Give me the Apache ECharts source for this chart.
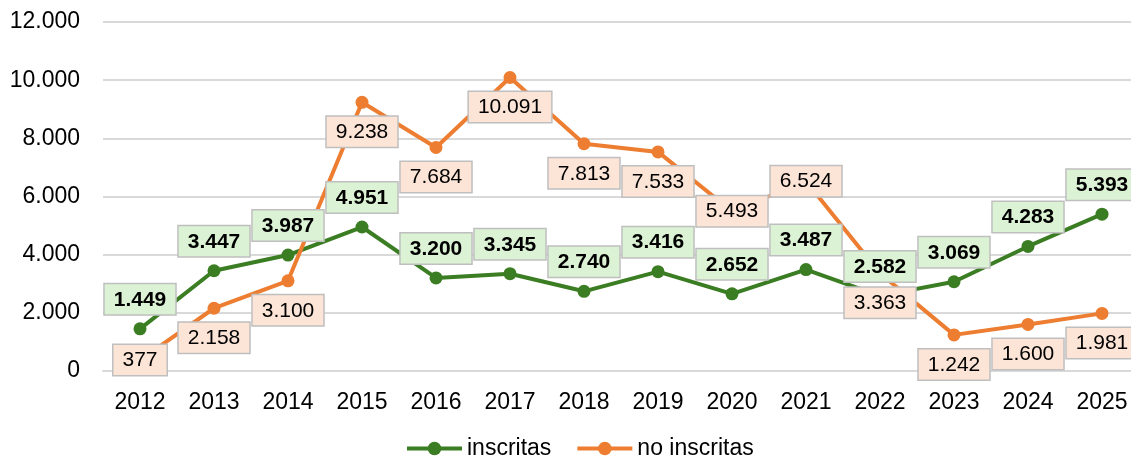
<!DOCTYPE html>
<html>
<head>
<meta charset="utf-8">
<script src="https://cdn.jsdelivr.net/npm/echarts@6/dist/echarts.min.js"></script>
<style>
  html, body { margin: 0; padding: 0; background: #fff; }
  #chart { width: 1131px; height: 459px; }
</style>
</head>
<body>
<div id="chart"></div>
<script>
var years = ['2012', '2013', '2014', '2015', '2016', '2017', '2018', '2019', '2020', '2021', '2022', '2023', '2024', '2025']
var inscritas = [1449, 3447, 3987, 4951, 3200, 3345, 2740, 3416, 2652, 3487, 2582, 3069, 4283, 5393]
var noInscritas = [377, 2158, 3100, 9238, 7684, 10091, 7813, 7533, 5493, 6524, 3363, 1242, 1600, 1981]
// labels for these years sit on the point instead of below it
var centeredNo = ['2012', '2020', '2021']

var green = '#3b7d23'
var orange = '#ed7d31'
var font = 'Arial, "Liberation Sans", sans-serif'

// 12000 -> "12.000"
function fmt(v) {
  return String(Math.round(v)).replace(/\B(?=(\d{3})+(?!\d))/g, '.')
}

var myChart = echarts.init(document.getElementById('chart'))

var labelBase = {
  show: true,
  fontFamily: font,
  fontSize: 21,
  lineHeight: 21,
  color: '#000',
  borderColor: '#bfbfbf',
  borderWidth: 1.5,
  padding: [5, 9, 4, 9],
  distance: 8,
  formatter: function (p) { return fmt(p.value) }
}

var noData = noInscritas.map(function (v, i) {
  if (centeredNo.indexOf(years[i]) >= 0) {
    return { value: v, label: { position: 'inside' } }
  }
  return v
})

var option = {
  animation: false,
  grid: {
    left: 103,
    width: 1036,
    top: 22,
    bottom: 88,
    containLabel: false,
    outerBoundsMode: 'none'
  },
  legend: {
    left: 400,
    top: 432,
    itemWidth: 55,
    itemHeight: 17,
    itemGap: 24,
    lineStyle: { width: 4 },
    textStyle: {
      fontFamily: font,
      fontSize: 23,
      color: '#000'
    },
    data: ['inscritas', 'no inscritas']
  },
  xAxis: {
    type: 'category',
    data: years,
    axisLine: { show: true, lineStyle: { color: '#d9d9d9', width: 2 } },
    axisTick: { show: false },
    axisLabel: {
      margin: 20,
      fontFamily: font,
      fontSize: 23,
      color: '#000'
    }
  },
  yAxis: {
    type: 'value',
    min: 0,
    max: 12000,
    interval: 2000,
    axisLine: { show: false },
    axisTick: { show: false },
    splitLine: { lineStyle: { color: '#d9d9d9', width: 2 } },
    axisLabel: {
      margin: 23,
      fontFamily: font,
      fontSize: 23,
      color: '#000',
      formatter: function (v) { return fmt(v) }
    }
  },
  series: [{
    name: 'inscritas',
    type: 'line',
    data: inscritas,
    symbol: 'circle',
    symbolSize: 13,
    color: green,
    lineStyle: { width: 4, color: green },
    itemStyle: { color: green },
    label: Object.assign({}, labelBase, {
      position: 'top',
      fontWeight: 'bold',
      backgroundColor: '#dcf2d4'
    })
  }, {
    name: 'no inscritas',
    type: 'line',
    data: noData,
    symbol: 'circle',
    symbolSize: 13,
    color: orange,
    lineStyle: { width: 4, color: orange },
    itemStyle: { color: orange },
    label: Object.assign({}, labelBase, {
      position: 'bottom',
      backgroundColor: '#fce4d6'
    })
  }]
}

myChart.setOption(option)
</script>
</body>
</html>
